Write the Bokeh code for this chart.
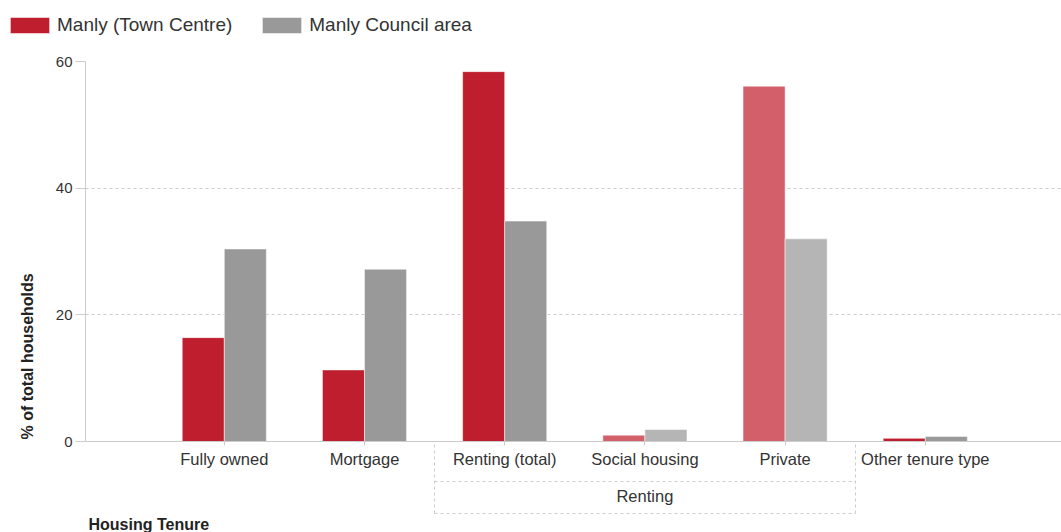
from bokeh.plotting import figure
from bokeh.layouts import column
from bokeh.models import (ColumnDataSource, Range1d, FixedTicker, Legend, LegendItem,
                          LinearAxis, Title)
from bokeh.transform import dodge
from bokeh.embed import file_html
from bokeh.resources import INLINE

# ---------------- data ----------------
categories = ["Fully owned", "Mortgage", "Renting (total)", "Social housing",
              "Private", "Other tenure type"]
town_centre = [16.4, 11.3, 58.4, 1.0, 56.1, 0.5]
council_area = [30.4, 27.2, 34.8, 1.9, 32.0, 0.8]
is_subcategory = [False, False, False, True, True, False]
series_names = ["Manly (Town Centre)", "Manly Council area"]
group_label = "Renting"
group_members = ["Renting (total)", "Social housing", "Private"]
y_ticks = [0, 20, 40, 60]
x_title = "Housing Tenure"
y_title = "% of total households"

# ---------------- styling ----------------
FONT = "Liberation Sans"
TEXT = "#333333"
LINE = "#cccccc"
RED, RED_LIGHT = "#be1e2d", "#d35f6b"
GREY, GREY_LIGHT = "#999999", "#b5b5b5"

W = 1061
LEG_H = 40
H = 532 - LEG_H
BORDER_L, BORDER_T, BORDER_B = 85, 21, 90
FRAME_W = W - BORDER_L
CAT_PX = 140.2                      # pixels per category slot
X_MIN = 0.01
X_MAX = X_MIN + FRAME_W / CAT_PX
Y_MAX = 60

xs = [i + 1 for i in range(len(categories))]
source = ColumnDataSource(dict(
    x=xs,
    town=town_centre,
    council=council_area,
    town_color=[RED_LIGHT if s else RED for s in is_subcategory],
    council_color=[GREY_LIGHT if s else GREY for s in is_subcategory],
))

p = figure(width=W, height=H, x_range=Range1d(X_MIN, X_MAX), y_range=Range1d(0, Y_MAX),
           output_backend="svg", toolbar_location=None,
           min_border_left=BORDER_L, min_border_right=0,
           min_border_top=BORDER_T, min_border_bottom=BORDER_B)
p.outline_line_color = None
p.background_fill_color = "white"
p.frame_align = False

BAR_W = 0.3
r_town = p.vbar(x=dodge("x", -BAR_W / 2), top="town", width=BAR_W, source=source,
                fill_color="town_color", line_color="white", line_alpha=0.5, line_width=1)
r_council = p.vbar(x=dodge("x", BAR_W / 2), top="council", width=BAR_W, source=source,
                   fill_color="council_color", line_color="white", line_alpha=0.5, line_width=1)

# grid
p.xgrid.visible = False
p.ygrid.ticker = FixedTicker(ticks=y_ticks)
p.ygrid.grid_line_color = LINE
p.ygrid.grid_line_dash = "3 3"

# group bracket limits
g_idx = [categories.index(c) + 1 for c in group_members]
g_left, g_right = min(g_idx) - 0.5, max(g_idx) + 0.5
g_mid = (g_left + g_right) / 2

# x axis (categories)
xa = p.xaxis[0]
xa.ticker = FixedTicker(ticks=xs)
xa.major_label_overrides = {x: c for x, c in zip(xs, categories)}
xa.axis_line_color = LINE
xa.major_tick_line_color = LINE
xa.major_tick_out = 4
xa.major_tick_in = 0
xa.minor_tick_line_color = None
xa.major_label_standoff = 4
xa.major_label_text_font = FONT
xa.major_label_text_font_size = "16.5px"
xa.major_label_text_color = TEXT
xa.axis_label = " "
xa.axis_label_text_font_size = "2px"
xa.axis_label_standoff = 6

# group axis ("Renting") - its line is the bracket's middle rule
ga = LinearAxis(ticker=FixedTicker(ticks=[g_mid]),
                major_label_overrides={g_mid: group_label},
                bounds=(g_left, g_right),
                axis_line_color=LINE, axis_line_dash="3 3",
                major_tick_line_color=None, major_tick_out=0, major_tick_in=0,
                minor_tick_line_color=None, minor_tick_out=0, minor_tick_in=0,
                major_label_standoff=5, major_label_text_font=FONT,
                major_label_text_font_size="16.5px", major_label_text_color=TEXT,
                axis_label=" ", axis_label_text_font_size="2px", axis_label_standoff=1)
p.add_layout(ga, "below")

# closing rule of the bracket; its inward minor ticks draw the side walls
ca = LinearAxis(ticker=FixedTicker(ticks=[], minor_ticks=[g_left, g_right]),
                bounds=(g_left, g_right),
                axis_line_color=LINE, axis_line_dash="3 3",
                major_tick_line_color=None, major_tick_out=0, major_tick_in=0,
                minor_tick_line_color=LINE, minor_tick_line_dash="3 3",
                minor_tick_out=0, minor_tick_in=71,
                major_label_standoff=0)
p.add_layout(ca, "below")

p.add_layout(Title(text=x_title, align="left", offset=3, standoff=0,
                   text_font=FONT, text_font_size="16px", text_font_style="bold",
                   text_color="#222222"), "below")

# y axis
ya = p.yaxis[0]
ya.ticker = FixedTicker(ticks=y_ticks)
ya.axis_line_color = LINE
ya.major_tick_line_color = LINE
ya.major_tick_out = 10
ya.major_tick_in = 0
ya.minor_tick_line_color = None
ya.major_label_standoff = 3
ya.major_label_text_font = FONT
ya.major_label_text_font_size = "15px"
ya.major_label_text_color = TEXT

p.add_layout(Title(text=y_title, align="left", offset=2, standoff=33,
                   text_font=FONT, text_font_size="16px", text_font_style="bold",
                   text_color="#222222"), "left")

# legend strip: swatch renderers share the data but lie outside its view range
leg = figure(width=W, height=LEG_H, x_range=Range1d(-3, -2), y_range=Range1d(0, 1),
             x_axis_type=None, y_axis_type=None,
             output_backend="svg", toolbar_location=None,
             min_border_left=0, min_border_right=0, min_border_top=0, min_border_bottom=0)
leg.grid.visible = False
leg.outline_line_color = None
leg.frame_align = False
sw_town = leg.vbar(x="x", top="town", width=BAR_W, source=source, fill_color=RED,
                   line_color="white", line_alpha=0.5)
sw_council = leg.vbar(x="x", top="council", width=BAR_W, source=source, fill_color=GREY,
                      line_color="white", line_alpha=0.5)
legend = Legend(items=[LegendItem(label=series_names[0], renderers=[sw_town]),
                       LegendItem(label=series_names[1], renderers=[sw_council])],
                orientation="horizontal", location=(5, 4),
                margin=0, padding=0, spacing=25, label_standoff=3,
                glyph_width=49, glyph_height=20, label_height=20,
                label_text_font=FONT, label_text_font_size="19px", label_text_color=TEXT,
                border_line_color=None, background_fill_alpha=0)
leg.add_layout(legend)

layout = column(leg, p, spacing=0)
open("out.html", "w").write(file_html(layout, INLINE))
